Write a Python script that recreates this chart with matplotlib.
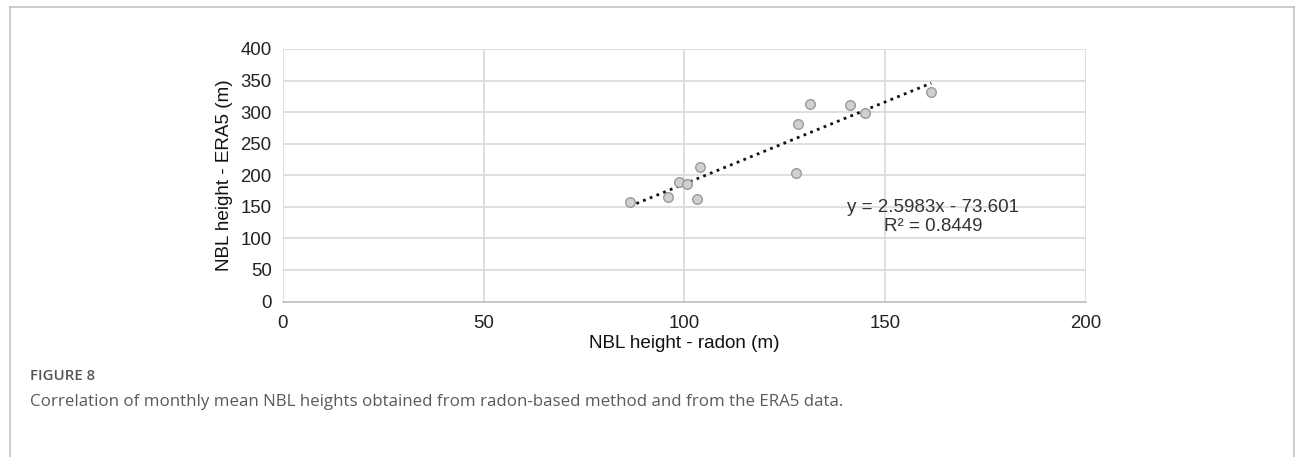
import numpy as np
import matplotlib.pyplot as plt
from matplotlib.lines import Line2D

plt.rcParams['font.family'] = ['Liberation Sans', 'DejaVu Sans']

# monthly mean NBL heights
radon = [86.4, 95.9, 98.7, 100.6, 104.0, 103.2, 127.9, 128.4, 131.3, 141.3, 145.0, 161.5]
era5 = [157.6, 165.7, 188.7, 186.6, 213.3, 161.8, 203.6, 280.8, 313.6, 311.4, 299.2, 332.3]
slope, intercept = 2.5983, -73.601
x_ticks = [0, 50, 100, 150, 200]
y_ticks = [0, 50, 100, 150, 200, 250, 300, 350, 400]

fig = plt.figure(figsize=(12.95, 4.57), dpi=100)

# outer frame (open at bottom)
frame_col = '#c4c4c4'
fig.add_artist(Line2D([9.5/1295, 9.5/1295], [0, 1 - 7/457], transform=fig.transFigure, color=frame_col, lw=1.2))
fig.add_artist(Line2D([9.5/1295, 1293.5/1295], [1 - 7/457, 1 - 7/457], transform=fig.transFigure, color=frame_col, lw=1.2))
fig.add_artist(Line2D([1293.5/1295, 1293.5/1295], [0, 1 - 7/457], transform=fig.transFigure, color=frame_col, lw=1.2))

ax = fig.add_axes([282.7/1295, 155.5/457, 803.3/1295, 252.5/457])
ax.set_xlim(0, 200)
ax.set_ylim(0, 400)
ax.set_xticks(x_ticks)
ax.set_yticks(y_ticks)
ax.grid(True, color='#d9d9d9', lw=1.2)
ax.set_axisbelow(True)
for s in ['top', 'right', 'left']:
    ax.spines[s].set_visible(False)
ax.spines['bottom'].set_color('#bfbfbf')
ax.spines['bottom'].set_linewidth(1.2)
ax.tick_params(length=0, labelsize=13.4, colors='#222222', pad=8)
ax.tick_params(axis='x', pad=10)

# trendline
xt = np.array([min(radon), max(radon)])
ax.plot(xt, slope * xt + intercept, ls=(0, (1, 1.6)), color='#111111', lw=2, zorder=2)

ax.scatter(radon, era5, s=48, facecolor='#d0d0d0', edgecolor='#9a9a9a', lw=1, zorder=3)

ax.text(0.7025, 0.335, 'y = 2.5983x - 73.601\nR² = 0.8449', transform=ax.transAxes,
        fontsize=13.5, color='#333333', ha='left', va='center', linespacing=1.2,
        multialignment='center')

ax.set_xlabel('NBL height - radon (m)', fontsize=13.6, color='#111111', labelpad=2)
ax.set_ylabel('NBL height - ERA5 (m)', fontsize=13.6, color='#111111', labelpad=5)

fig.text(30/1295, 1 - 376/457, 'FIGURE 8', fontsize=10.8, color='#555555',
         family=['Open Sans', 'DejaVu Sans'], weight='semibold', va='center')
fig.text(30/1295, 1 - 402/457,
         'Correlation of monthly mean NBL heights obtained from radon-based method and from the ERA5 data.',
         fontsize=12.2, color='#5a5a5a', family=['Open Sans', 'DejaVu Sans'], va='center')

fig.savefig('out.png', dpi=100)
